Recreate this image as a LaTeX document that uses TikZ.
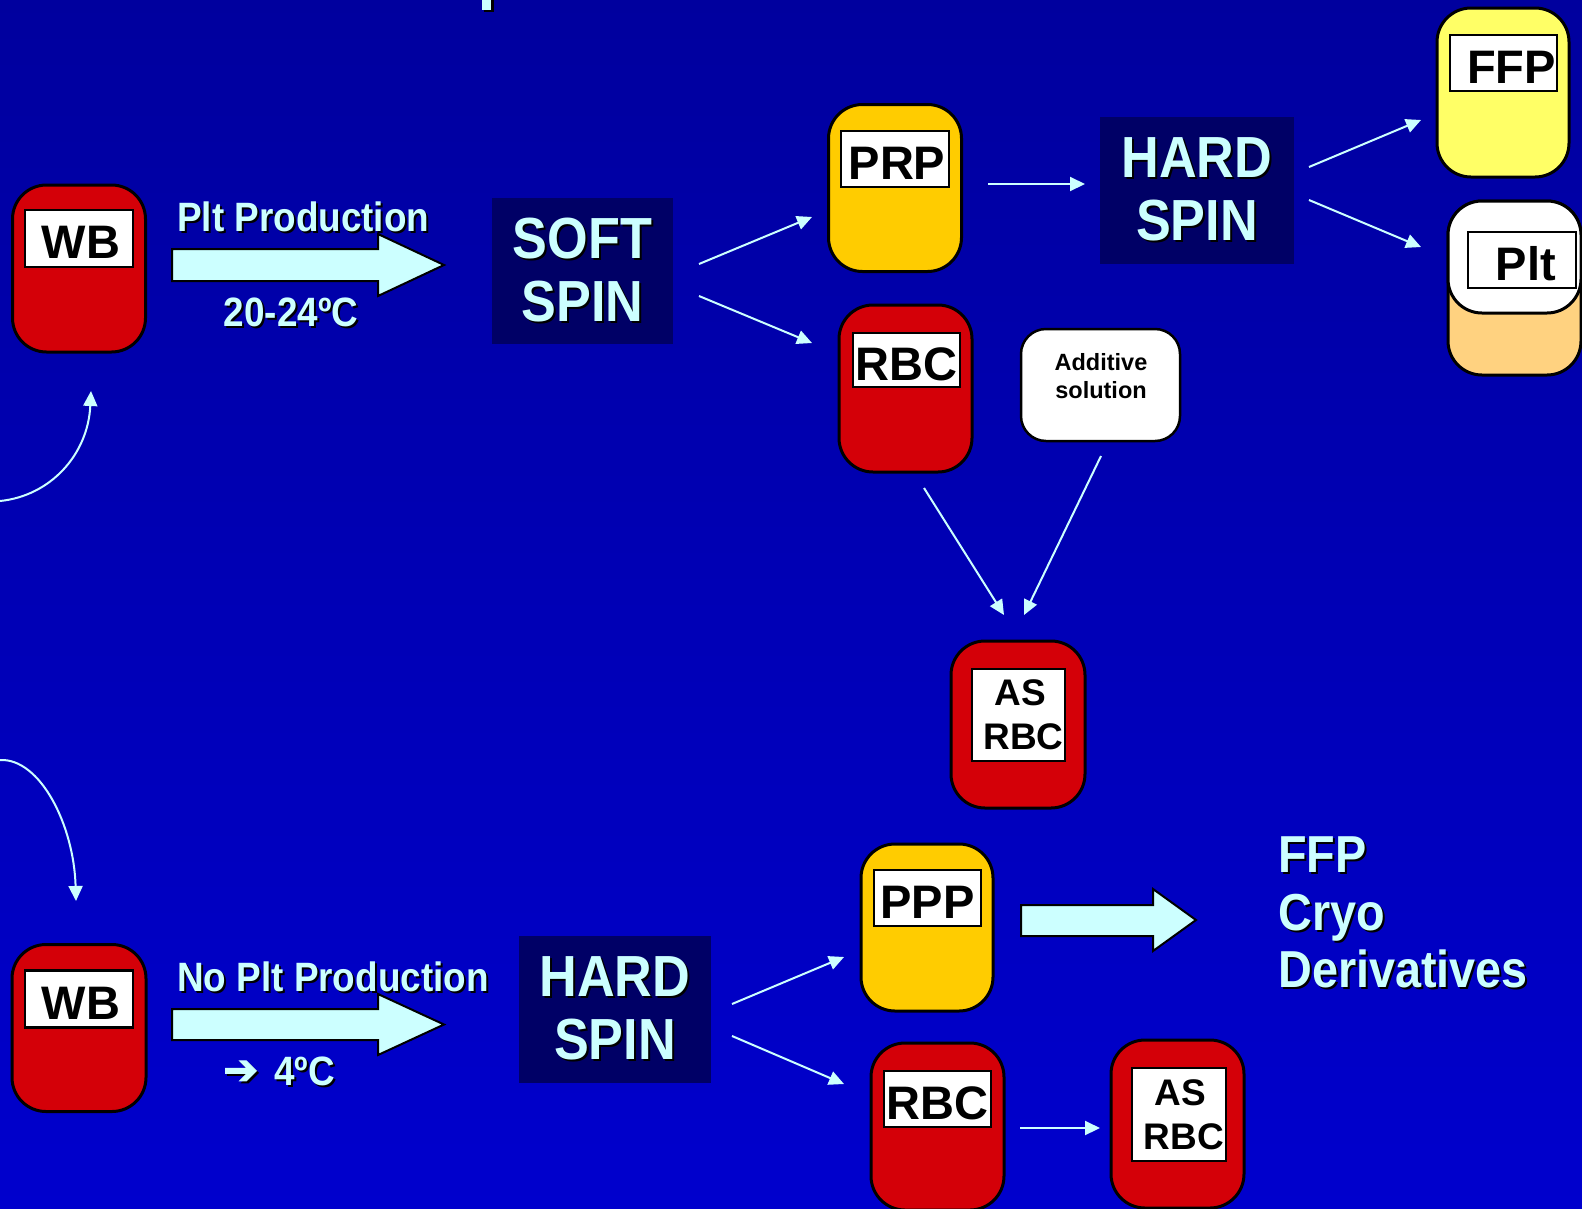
\documentclass[tikz,border=0pt]{standalone}
\usepackage{fontspec}
\setmainfont{Liberation Sans}
\newfontfamily\condf[FakeStretch=0.9]{Liberation Sans}
\newfontfamily\djv[FakeBold=2.5]{DejaVu Sans}
\usetikzlibrary{arrows.meta,calc}
\definecolor{bgtop}{RGB}{0,0,158}
\definecolor{bgbot}{RGB}{0,0,205}
\definecolor{navy}{RGB}{0,0,102}
\definecolor{bagred}{RGB}{212,0,8}
\definecolor{prpy}{RGB}{255,204,0}
\definecolor{ffpy}{RGB}{255,255,102}
\definecolor{pltor}{RGB}{255,210,128}
\definecolor{lcyan}{RGB}{204,255,255}
\newcommand\shd[1]{\leavevmode\rlap{\kern2pt\raisebox{-2pt}{\color{black}#1}}#1}
\tikzset{
  bag/.style={draw=black, line width=3pt, rounded corners=34pt, inner sep=0pt, minimum width=133pt, minimum height=167pt},
  lbl/.style={draw=black, fill=white, line width=2.5pt, inner sep=0pt, text height=40pt, text depth=0pt, font=\bfseries\fontsize{47}{47}\selectfont},
  lbltwo/.style={draw=black, fill=white, line width=2.5pt, inner sep=0pt, align=center, font=\bfseries\fontsize{37}{44}\selectfont},
  spinbox/.style={fill=navy, inner sep=0pt, text=lcyan, align=center, font=\condf\bfseries\fontsize{58}{63}\selectfont},
  cy/.style={text=lcyan, font=\condf\bfseries\fontsize{41}{41}\selectfont, inner sep=0pt},
  thinarr/.style={draw=lcyan, line width=2pt, -{Triangle[length=15pt,width=14pt]}},
  block/.style={fill=lcyan, draw=black, line width=2pt, line join=miter}
}
\begin{document}
\begin{tikzpicture}[x=1pt, y=-1pt]
\useasboundingbox (0,0) rectangle (1582,1208);
\shade[top color=bgtop, bottom color=bgbot] (0,0) rectangle (1582,1208);

% title fragment
\fill[black] (484,0) rectangle (494,12);
\fill[lcyan] (482,0) rectangle (491,10);

% ---------- top row ----------
\node[bag, fill=bagred] (wb1) at (79,268.5) {};
\node[lbl, minimum width=108pt, minimum height=57pt] (wb1l) at (79,238.5) {\hspace*{4pt}WB};

\node[cy, anchor=base west] (pltprod) at (177,231) {\shd{Plt Production}};
\draw[block] (172,249) -- (378,249) -- (378,234) -- (444,265) -- (378,296) -- (378,281) -- (172,281) -- cycle;
\node[cy, anchor=base] (temp1) at (291,326) {\shd{20-24ºC}};

\node[spinbox, minimum width=181pt, minimum height=146pt] (soft) at (582.5,271) {\shd{SOFT}\\\shd{SPIN}};

\node[bag, fill=prpy] (prp) at (895,188) {};
\node[lbl, minimum width=108pt, minimum height=56pt] (prpl) at (895,159) {\hspace*{4pt}PRP};

\node[bag, fill=bagred] (rbc1) at (905.5,388.5) {};
\node[lbl, minimum width=107pt, minimum height=54pt] (rbc1l) at (906.5,360) {RBC};

\node[spinbox, minimum width=194pt, minimum height=147pt] (hard1) at (1197,190.5) {\shd{HARD}\\\shd{SPIN}};

\node[bag, fill=ffpy, minimum width=132pt, minimum height=169pt] (ffp) at (1503,92.5) {};
\node[lbl, minimum width=107pt, minimum height=56pt] (ffpl) at (1503.5,63) {\hspace*{16pt}FFP};

\node[bag, fill=pltor, minimum height=174pt] (pltbag) at (1514.5,288) {};
\node[bag, fill=white, minimum height=112pt] (plttop) at (1514.5,257) {};
\node[lbl, minimum width=108pt, minimum height=56pt] (pltl) at (1522,260) {\hspace*{8pt}Plt};

\node[draw=black, fill=white, line width=2.5pt, rounded corners=25pt, minimum width=159pt, minimum height=112pt, inner sep=0pt] (add) at (1100.5,385) {};
\node[font=\bfseries\fontsize{23.5}{28}\selectfont, align=center, inner sep=0pt] (addt) at (1101,376) {Additive\\solution};

\node[bag, fill=bagred, minimum width=134pt] (as1) at (1018,724.5) {};
\node[lbltwo, minimum width=93pt, minimum height=92pt] (as1l) at (1018.5,715) {\hspace*{4pt}AS\\\hspace*{10pt}RBC};

% thin arrows (top)
\coordinate (a1s) at (699,264); \coordinate (a1e) at (812,217);
\coordinate (a2s) at (699,296); \coordinate (a2e) at (812,343);
\coordinate (a3s) at (988,184); \coordinate (a3e) at (1085,184);
\coordinate (a4s) at (1309,167); \coordinate (a4e) at (1421,120);
\coordinate (a5s) at (1309,200); \coordinate (a5e) at (1421,247);
\coordinate (a6s) at (924,488); \coordinate (a6e) at (1004,615);
\coordinate (a7s) at (1101,456); \coordinate (a7e) at (1024,615);
\draw[thinarr] (a1s) -- (a1e);
\draw[thinarr] (a2s) -- (a2e);
\draw[thinarr] (a3s) -- (a3e);
\draw[thinarr] (a4s) -- (a4e);
\draw[thinarr] (a5s) -- (a5e);
\draw[thinarr] (a6s) -- (a6e);
\draw[thinarr] (a7s) -- (a7e);

% curved arrows at left
\coordinate (c1s) at (0,501); \coordinate (c1e) at (91,391);
\coordinate (c2s) at (0,760); \coordinate (c2e) at (76,901);
\draw[thinarr] (c1s) .. controls (50,496) and (88,455) .. (c1e);
\draw[thinarr] (c2s) .. controls (40,758) and (74,825) .. (c2e);

% ---------- bottom row ----------
\node[bag, fill=bagred, minimum width=134pt] (wb2) at (79,1028) {};
\node[lbl, minimum width=108pt, minimum height=57pt] (wb2l) at (79,999) {\hspace*{4pt}WB};

\node[cy, anchor=base west] (noplt) at (177,991) {\shd{No Plt Production}};
\draw[block] (172,1009) -- (378,1009) -- (378,994) -- (444,1024.5) -- (378,1055) -- (378,1040) -- (172,1040) -- cycle;
\node[cy, anchor=base west, font=\djv\fontsize{42}{42}\selectfont] (temparr) at (223,1084) {\shd{➔}};
\node[cy, anchor=base west] (temp2) at (274,1085) {\shd{4ºC}};

\node[spinbox, minimum width=192pt, minimum height=147pt] (hard2) at (615,1009.5) {\shd{HARD}\\\shd{SPIN}};

\node[bag, fill=prpy, minimum width=132pt] (ppp) at (927,927.5) {};
\node[lbl, minimum width=107pt, minimum height=56pt] (pppl) at (927.5,898) {PPP};

\draw[block] (1021,905) -- (1153,905) -- (1153,889) -- (1196,920) -- (1153,951) -- (1153,936) -- (1021,936) -- cycle;

\node[cy, font=\condf\bfseries\fontsize{52}{57.5}\selectfont, align=left, anchor=north west] (prods) at (1278,837) {\shd{FFP}\\\shd{Cryo}\\\shd{Derivatives}};

\node[bag, fill=bagred] (rbc2) at (937.5,1126.5) {};
\node[lbl, minimum width=107pt, minimum height=56pt] (rbc2l) at (937.5,1099) {RBC};

\node[bag, fill=bagred, minimum height=168pt] (as2) at (1177.5,1124) {};
\node[lbltwo, minimum width=94pt, minimum height=93pt] (as2l) at (1179,1114.5) {\hspace*{2pt}AS\\\hspace*{10pt}RBC};

\coordinate (b1s) at (732,1004); \coordinate (b1e) at (844,957);
\coordinate (b2s) at (732,1036); \coordinate (b2e) at (844,1084);
\coordinate (b3s) at (1020,1128); \coordinate (b3e) at (1100,1128);
\draw[thinarr] (b1s) -- (b1e);
\draw[thinarr] (b2s) -- (b2e);
\draw[thinarr] (b3s) -- (b3e);
\end{tikzpicture}
\end{document}
